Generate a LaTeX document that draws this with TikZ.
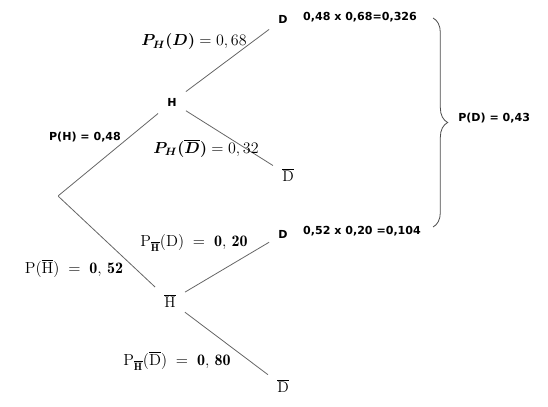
\documentclass[tikz,border=0pt]{standalone}
\usepackage{fontspec}
\usepackage{amsmath}
\usetikzlibrary{decorations.pathreplacing}
\newfontfamily\lblfont{DejaVu Sans}
\begin{document}
\begin{tikzpicture}[x=0.75pt,y=-0.75pt,
  branch/.style={draw=black!60, line width=0.6pt},
  evt/.style={font=\lblfont\bfseries\fontsize{8.3pt}{10pt}\selectfont, inner sep=3pt, outer sep=4pt},
  evtm/.style={font=\fontsize{11.5pt}{13pt}\selectfont, inner sep=3pt, outer sep=4pt},
  sanslbl/.style={font=\lblfont\bfseries\fontsize{8.3pt}{10pt}\selectfont, inner sep=0pt},
  mathlbl/.style={font=\fontsize{12pt}{14pt}\selectfont, inner sep=0pt}]
\useasboundingbox (0,0) rectangle (548,406);
% nodes
\node[minimum height=6pt, minimum width=0pt, inner sep=0pt] (root) at (58,196) {};
\node[evt] (H) at (172,102) {H};
\node[evtm] (Hb) at (170,301) {$\overline{\mathrm{H}}$};
\node[evt] (D1) at (283,19) {D};
\node[evtm] (D1b) at (288,175) {$\overline{\mathrm{D}}$};
\node[evt] (D2) at (283,234) {D};
\node[evtm] (D2b) at (283,386) {$\overline{\mathrm{D}}$};
% branches
\draw[branch] (root) -- (H);
\draw[branch] (root) -- (Hb);
\draw[branch] (H) -- (D1);
\draw[branch] (H) -- (D1b);
\draw[branch] (Hb) -- (D2);
\draw[branch] (Hb) -- (D2b);
% labels
\node[mathlbl] (l1) at (194,42) {$\boldsymbol{P_H(D)} = 0,68$};
\node[mathlbl] (l3) at (206,148) {$\boldsymbol{P_H(\overline{D})} = 0,32$};
\node[sanslbl] (l2) at (85,137) {P(H) = 0,48};
\node[mathlbl] (l4) at (194,243) {$\mathrm{P}_{\overline{\mathbf{H}}}(\mathrm{D}) \;=\; \mathbf{0,\,20}$};
\node[mathlbl] (l5) at (74,268) {$\mathrm{P}(\overline{\mathrm{H}}) \;=\; \mathbf{0},\,\mathbf{52}$};
\node[mathlbl] (l6) at (177,361) {$\mathrm{P}_{\overline{\mathbf{H}}}(\overline{\mathrm{D}}) \;=\; \mathbf{0,\,80}$};
\node[sanslbl] (r1) at (360,17) {0,48 x 0,68=0,326};
\node[sanslbl] (r2) at (362,231) {0,52 x 0,20 =0,104};
% brace
\draw[black!70, line width=0.6pt, decorate, decoration={brace, amplitude=11pt}] (433,18) -- (433,227);
\node[sanslbl, anchor=west] (pd) at (458,118) {P(D) = 0,43};
\end{tikzpicture}
\end{document}
